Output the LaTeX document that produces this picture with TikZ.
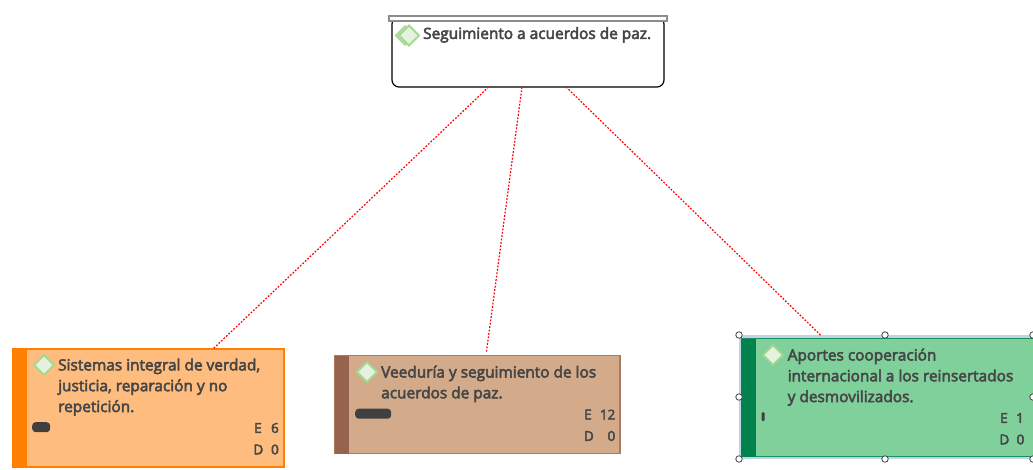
\documentclass[tikz,border=0pt]{standalone}
\usepackage{fontspec}
\setmainfont{Open Sans}
\newfontfamily\labfont{Open Sans}[FakeBold=3.4]
\usetikzlibrary{calc,shapes.geometric}
\definecolor{ink}{HTML}{464646}
\definecolor{pillc}{HTML}{404040}
\definecolor{orfill}{HTML}{FFBC7F}
\definecolor{orbar}{HTML}{FF7F00}
\definecolor{brfill}{HTML}{D3AB8B}
\definecolor{brbar}{HTML}{97634F}
\definecolor{grfill}{HTML}{80D09B}
\definecolor{grbar}{HTML}{00834D}
\definecolor{selbg}{HTML}{C3D3E6}
\definecolor{dia}{HTML}{A5D890}
\definecolor{diafill}{HTML}{E4F2DF}
\tikzset{
  x=1pt,y=-1pt,
  box/.style={anchor=north west,inner sep=0pt,outer sep=0pt,line width=1pt},
  label/.style={anchor=north west,inner sep=0pt,font=\labfont\fontsize{15.4}{20.8}\selectfont,text=ink,align=left},
  count/.style={anchor=east,inner sep=0pt,font=\labfont\fontsize{13.5}{16}\selectfont,text=ink},
  link/.style={red,dash pattern=on 1.8pt off 1.6pt,line width=1.2pt},
  gem/.style={diamond,aspect=1,inner sep=0pt,outer sep=0pt,minimum size=20pt,draw=dia,fill=diafill,line width=1.8pt},
  grip/.style={circle,inner sep=0pt,minimum size=6.5pt,draw=black!75,fill=white,line width=.8pt},
  pill/.style={fill=pillc,rounded corners=3.5pt,draw=none,inner sep=0pt},
}
\begin{document}
\begin{tikzpicture}
\useasboundingbox (0,0) rectangle (1033,470);
% top node
\node[box,draw=black,line width=1.2pt,fill=white,rounded corners=7pt,minimum width=272pt,minimum height=70pt] (top) at (392,17) {};
\node[box,draw=black!45,fill=white,line width=1.3pt,minimum width=278pt,minimum height=5pt] (topbar) at (389,16) {};
\node[gem,minimum size=18pt,fill=diafill!70] (g0b) at (405,35.5) {};
\node[gem,minimum size=20pt] (g0) at (409,35.5) {};
\node[label] (t0) at (423,27) {Seguimiento a acuerdos de paz.};
% orange
\node[box,draw=orbar,line width=1.2pt,fill=orfill,minimum width=271pt,minimum height=118pt] (a) at (13,349) {};
\node[box,fill=orbar,minimum width=14pt,minimum height=118pt] (abar) at (13,349) {};
\node[gem] (g1) at (44,365) {};
\node[label] (t1) at (58,358.5) {Sistemas integral de verdad,\\justicia, reparación y no\\repetición.};
\node[pill,minimum width=18pt,minimum height=10pt,anchor=north west] (p1) at (32,422) {};
\node[count] (e1a) at (262,428) {E};
\node[count] (e1b) at (279,428) {6};
\node[count] (d1a) at (263.5,449.5) {D};
\node[count] (d1b) at (279,449.5) {0};
% brown
\node[box,draw=brbar!70!brfill,line width=1.2pt,fill=brfill,minimum width=285pt,minimum height=98pt] (b) at (335,355.5) {};
\node[box,fill=brbar,minimum width=14pt,minimum height=98pt] (bbar) at (335,355.5) {};
\node[gem] (g2) at (367,372) {};
\node[label] (t2) at (381,365.5) {Veeduría y seguimiento de los\\acuerdos de paz.};
\node[pill,minimum width=36pt,minimum height=10pt,anchor=north west] (p2) at (355,408.5) {};
\node[count] (e2a) at (592,414.5) {E};
\node[count] (e2b) at (615.5,414.5) {12};
\node[count] (d2a) at (594,436) {D};
\node[count] (d2b) at (615.5,436) {0};
% green (selected)
\node[box,fill=selbg,minimum width=294pt,minimum height=124pt] (csel) at (739,335) {};
\node[box,draw=grbar!80!grfill,line width=1pt,fill=grfill,minimum width=295pt,minimum height=118pt] (c) at (741,338.5) {};
\node[box,fill=grbar,minimum width=15pt,minimum height=118pt] (cbar) at (741,338.5) {};
\node[gem,draw=dia!80!grfill] (g3) at (773,355) {};
\node[label] (t3) at (787.5,348.5) {Aportes cooperación\\internacional a los reinsertados\\y desmovilizados.};
\node[pill,rounded corners=1.2pt,minimum width=3pt,minimum height=9pt,anchor=north west] (p3) at (761.5,412) {};
\node[count] (e3a) at (1008,418) {E};
\node[count] (e3b) at (1024,418) {1};
\node[count] (d3a) at (1009.5,439.5) {D};
\node[count] (d3b) at (1024.5,439.5) {0};
\foreach \n/\x/\y in {h1/739/335,h2/885/335,h3/1033/335,h4/739/397,h5/1033/397,h6/739/459,h7/885/459,h8/1033/459}
  \node[grip] (\n) at (\x,\y) {};
% connectors
\draw[link] ($(top.south west)!0.355!(top.south east)$) -- ($(a.north west)!0.738!(a.north east)$);
\draw[link] ($(top.south west)!0.478!(top.south east)$) -- ($(b.north west)!0.531!(b.north east)+(0,-3)$);
\draw[link] ($(top.south west)!0.64!(top.south east)$) -- ($(c.north west)!0.271!(c.north east)+(0,-3)$);
\end{tikzpicture}
\end{document}
